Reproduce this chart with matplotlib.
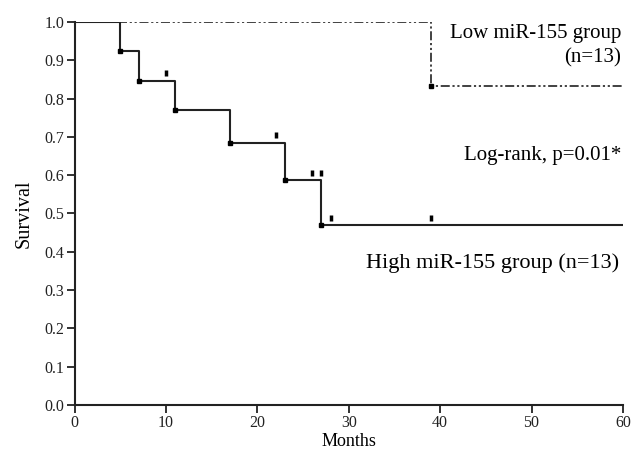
import matplotlib
matplotlib.use("Agg")
import matplotlib.pyplot as plt

plt.rcParams['font.family'] = ['Liberation Serif', 'DejaVu Serif']

# High miR-155 group: step survival
high_times = [0, 5, 7, 11, 17, 23, 27, 60]
high_surv = [1.0, 0.923, 0.846, 0.769, 0.684, 0.586, 0.469, 0.469]
high_event_t = [5, 7, 11, 17, 23, 27]
high_event_s = [0.923, 0.846, 0.769, 0.684, 0.586, 0.469]
high_cens_t = [10, 22, 26, 27, 28, 39]
high_cens_s = [0.846, 0.684, 0.586, 0.586, 0.469, 0.469]

# Low miR-155 group
low_times = [0, 39, 60]
low_surv = [1.0, 0.833, 0.833]
low_event_t = [39]
low_event_s = [0.833]

xticks = [0, 10, 20, 30, 40, 50, 60]
yticks = [0.0, 0.1, 0.2, 0.3, 0.4, 0.5, 0.6, 0.7, 0.8, 0.9, 1.0]

fig = plt.figure(figsize=(6.33, 4.58), dpi=100)
ax = fig.add_axes([0.118, 0.116, 0.866, 0.836])

ax.step(low_times, low_surv, where='post', color='#333333', lw=1.3,
        dashes=(5, 1.5, 1.2, 1.5, 1.2, 1.5), zorder=2)
ax.plot(low_event_t, low_event_s, 's', ms=2.5, color='black', zorder=4)

ax.step(high_times, high_surv, where='post', color='#222222', lw=1.5, zorder=3)
ax.plot(high_event_t, high_event_s, 's', ms=2.5, color='black', zorder=4)
ax.plot(high_cens_t, [s + 0.02 for s in high_cens_s], '|', ms=5, mew=2.5,
        color='black', zorder=4)

ax.set_xlim(0, 60)
ax.set_ylim(0, 1.0)
ax.set_xticks(xticks)
ax.set_yticks(yticks)
ax.set_yticklabels([f"{v:.1f}" for v in yticks])
ax.tick_params(direction='out', length=6, width=1.3, labelsize=11.5,
               colors='#222222', pad=1.5)
for s in ['top', 'right']:
    ax.spines[s].set_visible(False)
for s in ['left', 'bottom']:
    ax.spines[s].set_linewidth(1.5)
    ax.spines[s].set_color('#222222')

ax.set_xlabel('Months', fontsize=13, labelpad=1)
ax.set_ylabel('Survival', fontsize=14.5, labelpad=8)

ax.text(59.8, 0.995, 'Low miR-155 group\n(n=13)', ha='right', va='top',
        fontsize=15, linespacing=1.4, multialignment='right')
ax.text(59.8, 0.65, 'Log-rank, p=0.01*', ha='right', va='center', fontsize=15)
ax.text(59.6, 0.37, 'High miR-155 group (n=13)', ha='right', va='center', fontsize=16)

fig.savefig('out.png', dpi=100)
